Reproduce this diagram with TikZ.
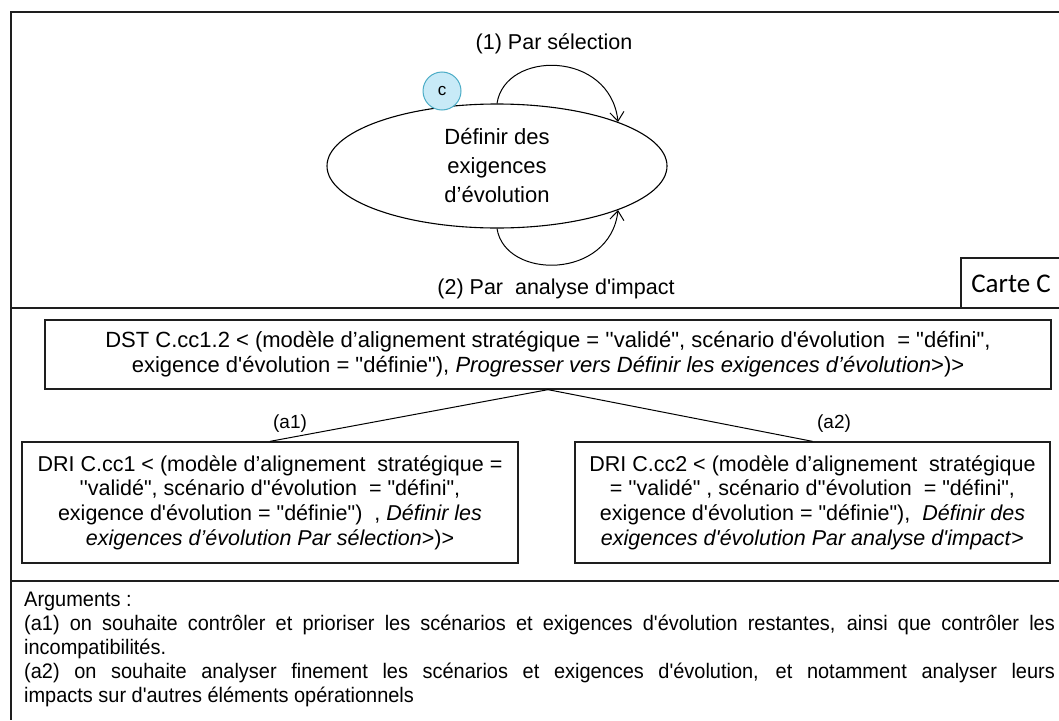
\documentclass[tikz,border=0pt]{standalone}
\usepackage{fontspec}
\usepackage{graphicx}
\newfontfamily\lsans{Liberation Sans}
\newfontfamily\carl{Carlito}
\usetikzlibrary{shapes.geometric,arrows.meta,calc}
\definecolor{cfill}{RGB}{200,234,247}
\definecolor{cline}{RGB}{75,172,198}
\definecolor{frm}{RGB}{30,30,30}
\newcommand\argline[1]{\scalebox{0.95}[1]{\makebox[1085pt][s]{#1}}}
\newcommand\argplain[1]{\scalebox{0.95}[1]{#1}}
\begin{document}
\begin{tikzpicture}[x=1pt,y=-1pt,
  every node/.style={inner sep=0pt},
  txt/.style={font=\lsans\fontsize{21.5}{24.7}\selectfont},
  frameline/.style={draw=frm, line width=1.3pt},
  boxst/.style={draw=frm, line width=1.3pt, align=center, txt},
  loopline/.style={draw, line width=1pt, -{Straight Barb[length=9pt,width=14pt]}},
  lbl/.style={font=\lsans\fontsize{19}{22}\selectfont},
  argtxt/.style={anchor=base west, font=\lsans\fontsize{21}{24}\selectfont}
]
\useasboundingbox (0,0) rectangle (1059,720);
% frame
\draw[frameline] (1059,12) -- (11,12) -- (11,720);
\draw[frameline] (11,308) -- (1059,308);
\draw[frameline] (11,581) -- (1059,581);
% Carte C
\draw[frameline] (1059,258) -- (961,258) -- (961,308);
\node[font=\carl\fontsize{27}{32}\selectfont] (carte) at (1011,284) {Carte C};
% ellipse
\node[draw, ellipse, line width=1.1pt, minimum width=340pt, minimum height=124pt, align=center,
      font=\lsans\fontsize{22}{29}\selectfont] (E) at (497,166) {Définir des\\exigences\\d’évolution};
\node[circle, draw=cline, fill=cfill, line width=1pt, minimum size=38pt,
      font=\lsans\fontsize{17}{20}\selectfont] (c) at (442,91) {c};
\draw[loopline] (E.north) .. controls (505,50) and (610,50) .. (E.20);
\draw[loopline] (E.south) .. controls (505,280) and (610,280) .. (E.-20);
\node[txt] (l1) at (554,44) {(1) Par sélection};
\node[txt] (l2) at (556,289) {(2) Par \ analyse d'impact};
% boxes
\node[boxst, minimum width=1006pt, minimum height=69pt, font=\lsans\fontsize{22}{24.7}\selectfont] (dst) at (548,354.5)
 {DST C.cc1.2 < (modèle d’alignement stratégique = ''validé", scénario d'évolution \ = "défini",\\
  exigence d'évolution = "définie"), \textit{Progresser vers Définir les exigences d’évolution}>)>};
\node[boxst, minimum width=496pt, minimum height=121pt] (dri1) at (270,502.5)
 {DRI C.cc1 < (modèle d’alignement \ stratégique =\\
  ''validé", scénario d''évolution \ = "défini",\\
  exigence d'évolution = "définie") \ , \textit{Définir les}\\
  \textit{exigences d’évolution Par sélection}>)>};
\node[boxst, minimum width=475pt, minimum height=121pt] (dri2) at (812.5,502.5)
 {DRI C.cc2 < (modèle d’alignement \ stratégique\\
  = ''validé" , scénario d''évolution \ = "défini",\\
  exigence d'évolution = "définie"), \ \textit{Définir des}\\
  \textit{exigences d'évolution Par analyse d'impact}>};
\draw[line width=1pt] (dst.south) -- (dri1.north);
\draw[line width=1pt] (dst.south) -- (dri2.north);
\node[lbl] (a1) at (290,424) {(a1)};
\node[lbl] (a2) at (834,424) {(a2)};
% arguments
\node[argtxt] (ar0) at (24,606) {\argplain{Arguments :}};
\node[argtxt] (ar1) at (24,630) {\argline{(a1) on souhaite contrôler et prioriser les scénarios et exigences d'évolution restantes, ainsi que contrôler les}};
\node[argtxt] (ar2) at (24,654) {\argplain{incompatibilités.}};
\node[argtxt] (ar3) at (24,678) {\argline{(a2) on souhaite analyser finement les scénarios et exigences d'évolution, et notamment analyser leurs}};
\node[argtxt] (ar4) at (24,702) {\argplain{impacts sur d'autres éléments opérationnels}};
\end{tikzpicture}
\end{document}
